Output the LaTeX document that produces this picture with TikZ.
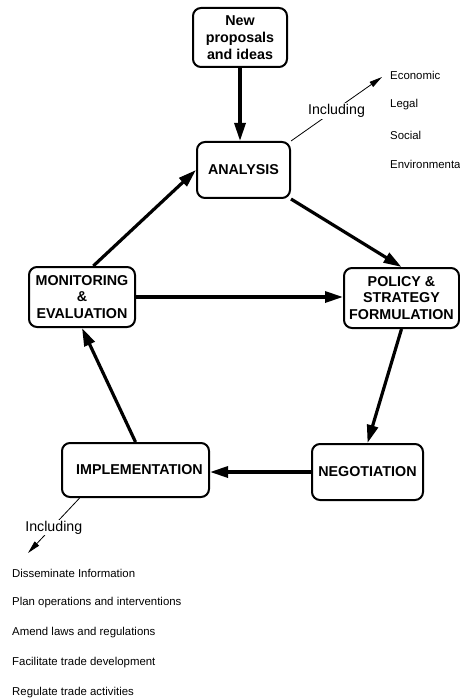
\documentclass[tikz,border=0pt]{standalone}
\usepackage{fontspec}
\setmainfont{Liberation Sans}
\usepackage{tikz}
\usetikzlibrary{calc,arrows.meta}
\tikzset{
  ar/.style={-{Triangle[length=18pt,width=11pt]},line width=3.2pt,black},
  thinar/.style={-{Triangle[length=13pt,width=6pt]},line width=0.8pt,black},
  box/.style={draw,line width=2pt,rounded corners=8pt,fill=white,align=center,inner sep=2pt,
    font=\fontsize{14.3}{16.8}\selectfont\bfseries},
  incl/.style={fill=white,inner sep=1pt,font=\fontsize{14.2}{15}\selectfont},
  item/.style={anchor=west,inner sep=0pt,font=\fontsize{11.4}{12}\selectfont}
}
\begin{document}
\begin{tikzpicture}[x=1pt,y=-1pt]
\useasboundingbox (0,0) rectangle (459,700);
% stages of the cycle
\node[box,minimum width=94pt,minimum height=59pt] (new) at (240,37.5) {New\\proposals\\and ideas};
\node[box,minimum width=93pt,minimum height=56pt] (ana) at (243.5,170) {ANALYSIS};
\node[box,minimum width=106pt,minimum height=60pt] (mon) at (82,297) {MONITORING\\\&\\EVALUATION};
\node[box,minimum width=115pt,minimum height=60pt] (pol) at (401.5,298) {POLICY \&\\STRATEGY\\FORMULATION};
\node[box,minimum width=111pt,minimum height=56pt] (neg) at (367.5,472) {NEGOTIATION};
\node[box,minimum width=147pt,minimum height=54pt] (imp) at (135.5,470) {\hspace{8pt}IMPLEMENTATION};
% cycle arrows
\draw[ar] (new.south) -- (new.south |- ana.north);
\draw[ar] (ana.south east) -- (pol.north);
\draw[ar] (pol.south) -- (neg.north);
\draw[ar] (neg.west) -- (neg.west -| imp.east);
\draw[ar] (imp.north) -- (mon.south);
\draw[ar] (mon.70) -- (ana.west);
\draw[ar] (mon.east) -- (mon.east -| pol.west);
% analysis topics
\coordinate (anaend) at (382,77);
\draw[thinar] (ana.north east) -- (anaend) node[incl,pos=0.5,yshift=-2pt] {Including};
\node[item] (econ) at (390,75) {Economic};
\node[item] (legal) at (390,105) {Legal};
\node[item] (social) at (390,135) {Social};
\node[item] (env) at (390,164) {Environmental};
% implementation tasks
\coordinate (impend) at (28,553);
\draw[thinar] ($(imp.south west)!0.25!(imp.south)$) -- (impend) node[incl,pos=0.5,yshift=-2pt] {Including};
\node[item] (diss) at (12,573) {Disseminate Information};
\node[item] (plan) at (12,603) {Plan operations and interventions};
\node[item] (amend) at (12,633) {Amend laws and regulations};
\node[item] (facil) at (12,663) {Facilitate trade development};
\node[item] (regul) at (12,693) {Regulate trade activities};
\end{tikzpicture}
\end{document}
